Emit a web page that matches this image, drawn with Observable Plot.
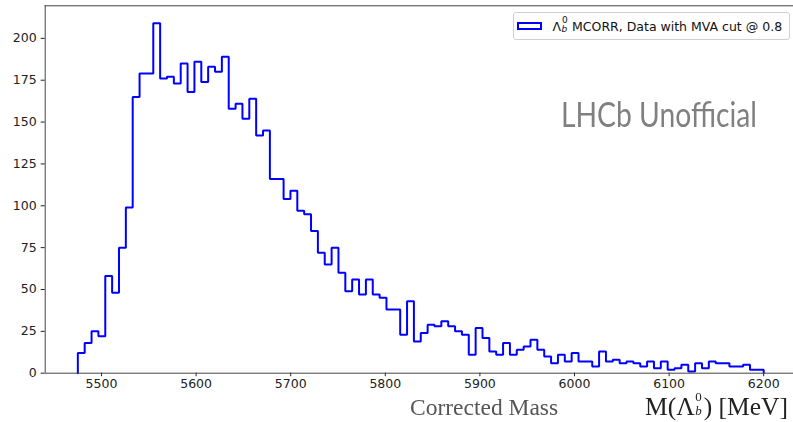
<!DOCTYPE html>
<html><head><meta charset="utf-8">
<script src="https://cdn.jsdelivr.net/npm/d3@7"></script>
<script src="https://cdn.jsdelivr.net/npm/@observablehq/plot@0.6"></script>
<style>
html,body{margin:0;padding:0;background:#fff;}
#wrap{position:relative;width:793px;height:422px;overflow:hidden;background:#fff;}
#wrap svg{position:absolute;left:0;top:0;}
.legend{position:absolute;left:512.5px;top:11.5px;width:277px;height:28px;border:1px solid #d0d0d0;border-radius:3px;background:rgba(255,255,255,0.8);box-sizing:border-box;font-family:"DejaVu Sans",sans-serif;font-size:12.5px;color:#111;}
.legend .patch{position:absolute;left:3.5px;top:9.5px;width:25px;height:8px;border:2px solid #0000ff;box-sizing:border-box;}
.legend .txt{position:absolute;left:39px;top:6px;white-space:nowrap;line-height:15px;}
.ss{position:relative;display:inline-block;width:7px;height:12px;}
.ss .sup{position:absolute;left:1px;top:-3px;font-size:9px;line-height:8px;}
.ss .sub{position:absolute;left:0.5px;top:6px;font-size:9px;line-height:8px;font-style:italic;}
.water{position:absolute;left:561px;top:93px;font-family:Lato,"Open Sans",sans-serif;font-size:35px;color:#808080;white-space:nowrap;transform-origin:0 0;line-height:40px;}
.xl1{position:absolute;left:410px;top:393px;font-family:"Liberation Serif","DejaVu Serif",serif;font-size:23.5px;color:#555;white-space:nowrap;line-height:28px;filter:blur(0.3px);}
#xl2svg{position:absolute;left:0;top:0;pointer-events:none;filter:blur(0.3px);}
</style></head><body>
<div id="wrap"></div>
<script>
// ---- data ----
const binLow = 5475;
const binHigh = 6200;
const counts = [
  12, 18, 25, 22, 58, 48, 75, 99, 165, 179,
  179, 209, 176, 177, 173, 185, 168, 186, 174, 183,
  180, 189, 158, 161, 152, 164, 142, 145, 116, 116,
  104, 109, 97, 95, 85, 72, 65, 75, 60, 49,
  56, 47, 56, 47, 45, 38, 38, 23, 43, 19,
  24, 29, 28, 31, 28, 25, 23, 11, 27, 21,
  13, 11, 18, 11, 14, 16, 20, 14, 10, 6,
  11, 7, 12, 7, 7, 4, 13, 7, 8, 6,
  7, 6, 4, 7, 3, 7, 2, 3, 5, 1,
  6, 3, 7, 6, 6, 4, 4, 5, 2, 2
];
const xTicks = [5500, 5600, 5700, 5800, 5900, 6000, 6100, 6200];
const yTicks = [0, 25, 50, 75, 100, 125, 150, 175, 200];
const xDomain = [5440.5, 6231.5];
const yDomain = [0, 219.45];
const legendText = "MCORR, Data with MVA cut @ 0.8";
const watermarkText = "LHCb Unofficial";
const xLabelA = "Corrected Mass";

// ---- build step points from bins ----
const nb = counts.length;
const bw = (binHigh - binLow) / nb;
const pts = [{x: binLow, y: 0}];
counts.forEach((c, i) => pts.push({x: binLow + i * bw, y: c}));
pts.push({x: binHigh, y: 0});

const spine = "#444";
const chart = Plot.plot({
  width: 793,
  height: 422,
  marginLeft: 44.7,
  marginRight: 0,
  marginTop: 5.3,
  marginBottom: 49.3,
  style: {fontFamily: "DejaVu Sans, sans-serif", fontSize: "12.5px", color: "#222", background: "transparent"},
  x: {domain: xDomain, ticks: xTicks, tickSize: 3.5, tickPadding: 2.5, label: null, tickFormat: d => String(d)},
  y: {domain: yDomain, ticks: yTicks, tickSize: 4, tickPadding: 4.5, label: null, tickFormat: d => String(d)},
  marks: [
    Plot.line(pts, {x: "x", y: "y", curve: "step-after", stroke: "#0000ff", strokeWidth: 2, strokeLinejoin: "miter"}),
    Plot.ruleY([yDomain[0]], {stroke: spine, strokeWidth: 1}),
    Plot.ruleY([yDomain[1]], {stroke: spine, strokeWidth: 1}),
    Plot.ruleX([xDomain[0]], {stroke: spine, strokeWidth: 1})
  ]
});
const wrap = document.getElementById("wrap");
wrap.appendChild(chart);

// legend
const leg = document.createElement("div");
leg.className = "legend";
leg.innerHTML = `<div class="patch"></div><div class="txt">Λ<span class="ss"><span class="sup">0</span><span class="sub">b</span></span> ${legendText}</div>`;
wrap.appendChild(leg);

// watermark
const wm = document.createElement("div");
wm.className = "water";
wm.textContent = watermarkText;
wrap.appendChild(wm);
const wmw = wm.getBoundingClientRect().width;
wm.style.transform = `scaleX(${196 / wmw})`;

// x labels
const xl1 = document.createElement("div");
xl1.className = "xl1";
xl1.textContent = xLabelA;
wrap.appendChild(xl1);

const ns = "http://www.w3.org/2000/svg";
const s2 = document.createElementNS(ns, "svg");
s2.setAttribute("id", "xl2svg");
s2.setAttribute("width", "793");
s2.setAttribute("height", "422");
s2.innerHTML = `<text x="645" y="414.5" font-family="Liberation Serif, DejaVu Serif, serif" font-size="25.5" fill="#222">M(Λ<tspan font-size="13" dx="0.5" dy="-14">0</tspan><tspan font-size="13" font-style="italic" dx="-6.5" dy="14.5">b</tspan><tspan dx="2" dy="-0.5">) [MeV]</tspan></text>`;
wrap.appendChild(s2);
</script>
</body></html>
